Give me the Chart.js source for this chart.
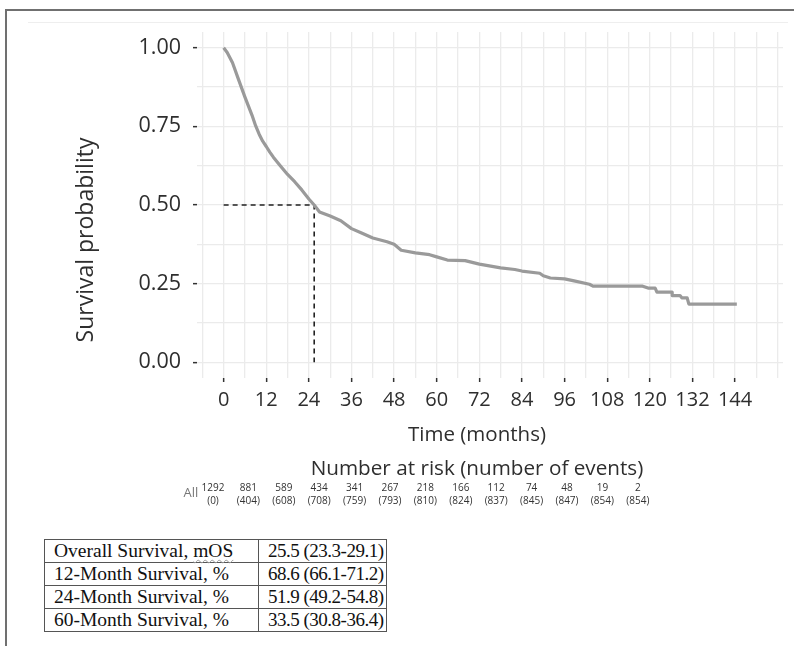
<!DOCTYPE html>
<html>
<head>
<meta charset="utf-8">
<script src="https://cdn.jsdelivr.net/npm/chart.js@4.4.1/dist/chart.umd.min.js"></script>
<style>
  html, body { margin: 0; padding: 0; background: #fff; }
  body { width: 794px; height: 646px; position: relative; overflow: hidden; }
  #frame { position: absolute; left: 5px; top: 9px; width: 789px; height: 637px;
           border-top: 2px solid #707070; border-left: 2px solid #707070; box-sizing: border-box; }
  #faint { position: absolute; left: 28px; top: 22px; width: 760px; height: 1px; background: #eeeeee; }
  #km { position: absolute; left: 0; top: 0; }
  #summary { position: absolute; left: 44px; top: 539px; width: 342px; table-layout: fixed; border-collapse: collapse;
             font-family: "Liberation Serif", "Times New Roman", serif; font-size: 19.5px; color: #111; }
  #summary td { border: 1px solid #555; height: 22px; line-height: 22px; padding: 0 0 0 9px; white-space: nowrap; overflow: visible; }
  #summary td.val { letter-spacing: -0.5px; font-size: 19px; }
  .spell { text-decoration: underline wavy #9a9a9a; text-decoration-thickness: 1px; text-underline-offset: 2px; }
</style>
</head>
<body>
<div id="frame"></div>
<div id="faint"></div>
<canvas id="km" width="794" height="520"></canvas>
<table id="summary"><colgroup><col style="width:214px"><col style="width:128px"></colgroup><tbody id="rows"></tbody></table>
<script>
(function () {
  // Kaplan-Meier curve (months, survival probability)
  const timeMonths = [0, 1, 2.5, 4, 6, 8, 9, 10, 11, 12, 13, 14, 16, 18, 20, 22, 24, 25.5, 27, 30, 33, 36, 39, 42,
    46, 48, 50, 54, 58, 60, 63, 68, 72, 76, 78, 82, 84, 89, 90, 92, 96, 99, 103, 104, 118, 119.5, 121.5, 122,
    126.3, 126.3, 128.5, 129, 130.5, 131, 144.5];
  const survival = [1.0, 0.985, 0.952, 0.905, 0.843, 0.785, 0.752, 0.725, 0.703, 0.686, 0.668, 0.652, 0.624, 0.597,
    0.574, 0.548, 0.519, 0.50, 0.478, 0.465, 0.45, 0.425, 0.41, 0.395, 0.383, 0.375, 0.356, 0.348, 0.342, 0.335,
    0.325, 0.323, 0.312, 0.304, 0.30, 0.295, 0.29, 0.283, 0.275, 0.268, 0.265, 0.258, 0.248, 0.242, 0.242, 0.236,
    0.236, 0.223, 0.223, 0.212, 0.212, 0.205, 0.205, 0.185, 0.185];

  const medianOS = 25.5;

  const xTickLabels = ['0', '12', '24', '36', '48', '60', '72', '84', '96', '108', '120', '132', '144'];
  const yTickLabels = ['0.00', '0.25', '0.50', '0.75', '1.00'];

  // risk table
  const riskTimes = [0, 12, 24, 36, 48, 60, 72, 84, 96, 108, 120, 132, 144];
  const atRisk = [1292, 881, 589, 434, 341, 267, 218, 166, 112, 74, 48, 19, 2];
  const events = [0, 404, 608, 708, 759, 793, 810, 824, 837, 845, 847, 854, 854];

  // summary table
  const summaryLabels = ['Overall Survival, mOS', '12-Month Survival, %', '24-Month Survival, %', '60-Month Survival, %'];
  const summaryValues = ['25.5 (23.3-29.1)', '68.6 (66.1-71.2)', '51.9 (49.2-54.8)', '33.5 (30.8-36.4)'];

  const font = '"Open Sans", "Noto Sans", sans-serif';
  const textColor = '#2e2e2e';

  const curve = timeMonths.map((t, i) => ({ x: t, y: survival[i] }));
  const median = [{ x: 0, y: 0.5 }, { x: medianOS, y: 0.5 }, { x: medianOS, y: 0 }];

  const xGrid = [];
  for (let v = -6; v <= 156; v += 6) xGrid.push(v);
  const yGrid = [];
  for (let k = 0; k <= 8; k++) yGrid.push(k * 0.125);

  const extras = {
    id: 'extras',
    afterDraw(chart) {
      const ctx = chart.ctx;
      ctx.save();
      ctx.fillStyle = textColor;
      ctx.textAlign = 'center';
      ctx.textBaseline = 'middle';
      ctx.font = '20.5px ' + font;
      ctx.fillText('Time (months)', 477, 435);
      ctx.font = '20.7px ' + font;
      ctx.fillText('Number at risk (number of events)', 477, 469);

      ctx.font = '13px ' + font;
      ctx.fillStyle = '#777';
      ctx.fillText('All', 191, 493);
      ctx.font = '10px ' + font;
      ctx.fillStyle = '#333';
      riskTimes.forEach((t, i) => {
        const x = 213 + i * 35.4;
        ctx.fillText(String(atRisk[i]), x, 488);
        ctx.fillText('(' + events[i] + ')', x, 501);
      });

      ctx.font = '23px ' + font;
      ctx.fillStyle = textColor;
      ctx.translate(86, 240);
      ctx.rotate(-Math.PI / 2);
      ctx.fillText('Survival probability', 0, 0);
      ctx.restore();
    }
  };

  new Chart(document.getElementById('km'), {
    type: 'line',
    data: {
      datasets: [{
        data: curve,
        borderColor: '#9a9a9a',
        borderWidth: 3.2,
        pointRadius: 0,
        tension: 0,
        borderJoinStyle: 'round'
      }, {
        data: median,
        borderColor: '#222',
        borderWidth: 1.6,
        borderDash: [5, 4],
        pointRadius: 0,
        tension: 0
      }]
    },
    options: {
      responsive: false,
      animation: false,
      layout: { padding: { top: 32, right: 11, left: 0, bottom: 0 } },
      plugins: { legend: { display: false }, tooltip: { enabled: false } },
      scales: {
        x: {
          type: 'linear',
          min: -7.5,
          max: 157.5,
          afterBuildTicks: s => { s.ticks = xGrid.map(v => ({ value: v })); },
          afterFit: s => { s.height = 142; },
          border: { display: false },
          grid: {
            color: '#ebebeb',
            lineWidth: 1.3,
            tickLength: 4,
            tickWidth: 1.5,
            tickColor: c => (xTickLabels.includes(String(c.tick.value)) ? '#333' : 'rgba(0,0,0,0)')
          },
          ticks: {
            autoSkip: false,
            maxRotation: 0,
            padding: 6,
            color: textColor,
            font: { family: font, size: 20 },
            callback: v => (xTickLabels.includes(String(v)) ? String(v) : '')
          }
        },
        y: {
          min: -0.05,
          max: 1.05,
          afterBuildTicks: s => { s.ticks = yGrid.map(v => ({ value: v })); },
          afterFit: s => { s.width = 197; },
          border: { display: false },
          grid: {
            color: '#ebebeb',
            lineWidth: 1.3,
            tickLength: 4,
            tickWidth: 1.5,
            tickColor: c => (c.index % 2 === 0 ? '#333' : 'rgba(0,0,0,0)')
          },
          ticks: {
            autoSkip: false,
            padding: 12,
            color: textColor,
            font: { family: font, size: 21.5 },
            callback: (v, i) => (i % 2 === 0 ? yTickLabels[i / 2] : '')
          }
        }
      }
    },
    plugins: [extras]
  });

  const rows = document.getElementById('rows');
  summaryLabels.forEach((lab, i) => {
    const tr = document.createElement('tr');
    const a = document.createElement('td');
    if (lab.endsWith('mOS')) {
      a.innerHTML = lab.replace('mOS', '<span class="spell">mOS</span>');
    } else {
      a.textContent = lab;
    }
    const b = document.createElement('td');
    b.className = 'val';
    b.textContent = summaryValues[i];
    tr.appendChild(a);
    tr.appendChild(b);
    rows.appendChild(tr);
  });
})();
</script>
</body>
</html>
